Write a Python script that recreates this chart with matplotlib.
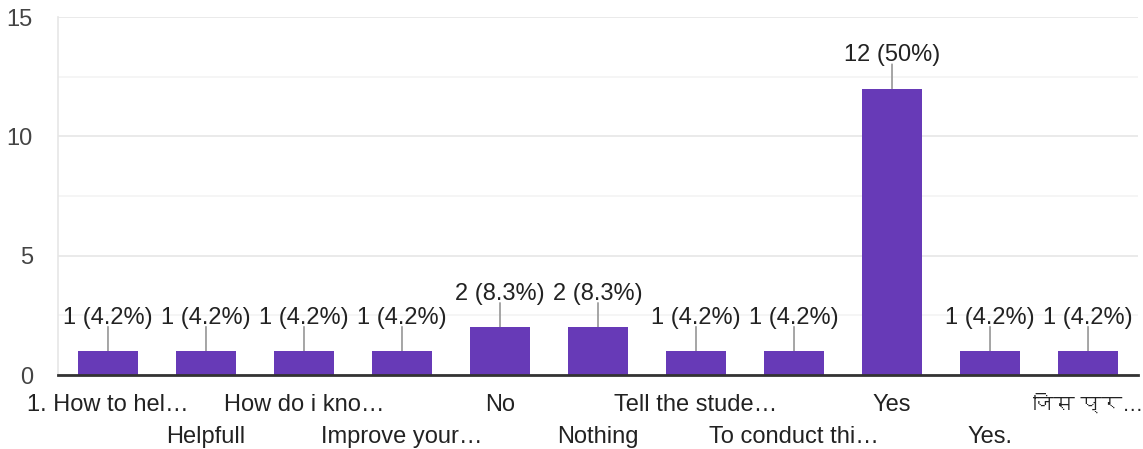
import matplotlib
matplotlib.use("Agg")
import matplotlib.pyplot as plt
from matplotlib import font_manager
from matplotlib.ft2font import FT2Font


# -----------------------------
# DATA
# -----------------------------
categories = [
    "1. How to hel…", "Helpfull", "How do i kno…", "Improve your…",
    "No", "Nothing", "Tell the stude…", "To conduct thi…",
    "Yes", "Yes.", "जिस प्र…",
]
counts = [1, 1, 1, 1, 2, 2, 1, 1, 12, 1, 1]
percent_labels = [
    "4.2%", "4.2%", "4.2%", "4.2%", "8.3%", "8.3%",
    "4.2%", "4.2%", "50%", "4.2%", "4.2%",
]
y_ticks = [0, 5, 10, 15]


# -----------------------------
# FONTS (find something with Devanagari for the last label)
# -----------------------------
def find_devanagari():
    for f in font_manager.fontManager.ttflist:
        try:
            if 0x091C in FT2Font(f.fname).get_charmap():
                return f.name
        except Exception:
            continue
    return None


def has_devanagari(s):
    return any(0x0900 <= ord(ch) <= 0x097F for ch in s)


deva = find_devanagari()
families = ["Liberation Sans"]
if deva:
    families.append(deva)
families.append("DejaVu Sans")
plt.rcParams["font.family"] = families

BAR = "#673ab7"
TEXT = "#222222"

fig = plt.figure(figsize=(11.43, 4.49), dpi=100)
ax = fig.add_axes([58 / 1143, 1 - 375 / 449, 1080 / 1143, 358 / 449])

x = list(range(len(categories)))
ax.bar(x, counts, width=0.61, color=BAR, zorder=3)

ax.set_xlim(-0.51, 10.51)
ax.set_ylim(0, 15)

# grid
ax.set_yticks(y_ticks)
ax.set_yticks([2.5, 7.5, 12.5], minor=True)
ax.grid(axis="y", which="major", color="#e6e6e6", lw=1.2, zorder=0)
ax.grid(axis="y", which="minor", color="#f3f3f3", lw=1.2, zorder=0)
ax.tick_params(axis="y", which="both", length=0, pad=18,
               labelsize=17, labelcolor="#444444")
ax.set_xticks([])

for s in ["top", "right"]:
    ax.spines[s].set_visible(False)
ax.spines["left"].set_color("#e6e6e6")
ax.spines["left"].set_linewidth(1.2)
ax.spines["bottom"].set_color("#333333")
ax.spines["bottom"].set_linewidth(2)
ax.spines["bottom"].set_zorder(4)

# value labels with leader lines
for i, (c, p) in enumerate(zip(counts, percent_labels)):
    ax.annotate("", xy=(i, c), xytext=(0, 17.5), textcoords="offset points",
                arrowprops=dict(arrowstyle="-", color="#9e9e9e", lw=1.3,
                                shrinkA=0, shrinkB=0, patchA=None),
                zorder=2)
    ax.annotate(f"{c} ({p})", xy=(i, c), xytext=(0, 24), textcoords="offset points",
                ha="center", va="center", fontsize=17, color=TEXT, zorder=5)

# staggered category labels
for i, name in enumerate(categories):
    off = -21.5 if i % 2 == 0 else -44.5
    size = 15 if has_devanagari(name) else 17
    ax.annotate(name, xy=(i, 0), xycoords=("data", "axes fraction"),
                xytext=(0, off), textcoords="offset points",
                ha="center", va="center", fontsize=size, color=TEXT,
                annotation_clip=False)

fig.savefig("out.png", dpi=100)
